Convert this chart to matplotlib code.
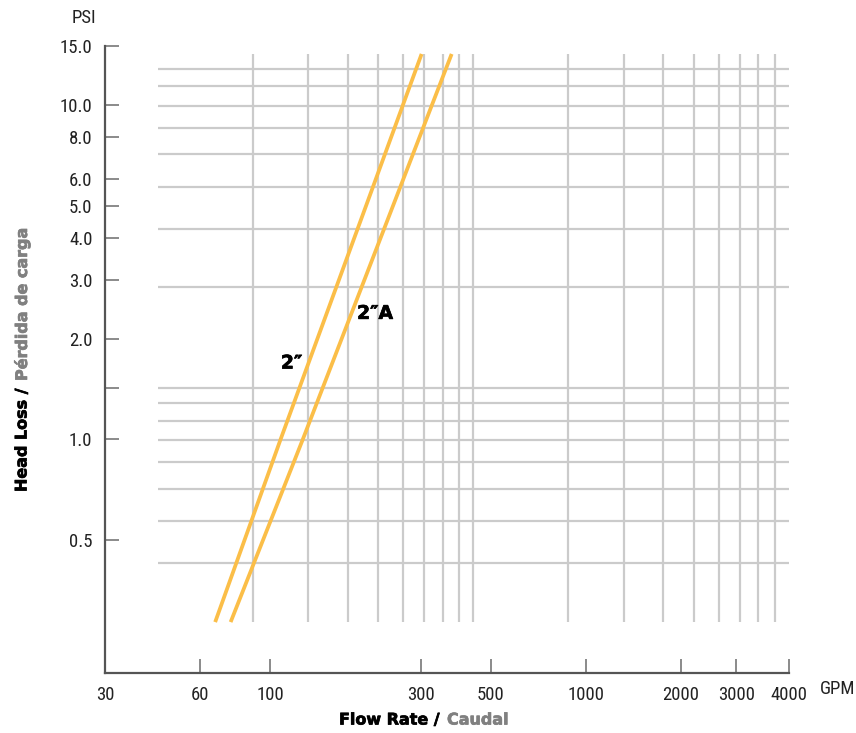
import matplotlib
matplotlib.use('Agg')
import matplotlib.pyplot as plt
import matplotlib.patheffects as pe
from matplotlib import font_manager
from matplotlib.ticker import NullLocator

# 数据：2" 与 2"A 的压力损失曲线（GPM, PSI）
FLOW_2IN = [67, 108, 302]
HEAD_2IN = [0.284, 1.0, 14.2]
FLOW_2IN_A = [75, 127, 376]
HEAD_2IN_A = [0.284, 1.0, 14.2]

# 背景网格按公制单位画（m3/h 与 m 水柱），再换算成 GPM / PSI
GPM_PER_M3H = 4.403
PSI_PER_M = 1.422
GRID_FLOW_M3H = [20, 30, 40, 50, 60, 70, 80, 90, 100,
                 200, 300, 400, 500, 600, 700, 800, 900]
GRID_HEAD_M = [0.3, 0.4, 0.5, 0.6, 0.7, 0.8, 0.9,
               1, 2, 3, 4, 5, 6, 7, 8, 9]
GRID_FLOW_SPAN = (10, 1000)
GRID_HEAD_SPAN = (0.2, 10)

X_TICKS = [30, 60, 100, 300, 500, 1000, 2000, 3000, 4000]
X_TICK_LABELS = ['30', '60', '100', '300', '500', '1000', '2000', '3000', '4000']
Y_TICKS = [0.5, 1.0, 1.422, 2.0, 3.0, 4.0, 5.0, 6.0, 8.0, 10.0, 15.0]
Y_TICK_LABELS = ['0.5', '1.0', '', '2.0', '3.0', '4.0', '5.0', '6.0', '8.0', '10.0', '15.0']

X_MIN, X_MAX = 30, 1000 * GPM_PER_M3H
Y_MIN, Y_MAX = 0.2, 15.0

LINE_COLOR = '#FBBE48'
GRID_COLOR = '#CBCBCB'
AXIS_COLOR = '#555555'
TICK_COLOR = '#777777'
SPANISH_GRAY = '#808080'
HEAVY = ['DejaVu Sans']

# 窄体字：有就用，没有就退回 DejaVu 的 condensed
_names = {f.name for f in font_manager.fontManager.ttflist}
_narrow_stretch = 'normal'
if 'Liberation Sans Narrow' in _names:
    NARROW = ['Liberation Sans Narrow', 'DejaVu Sans']
elif 'Roboto Condensed' in _names:
    NARROW = ['Roboto Condensed', 'DejaVu Sans']
else:
    NARROW = ['DejaVu Sans']
    _narrow_stretch = 'condensed'
LABEL_SIZE = 13.5 if NARROW[0] != 'DejaVu Sans' else 12.5


def heavy(color):
    # 加一圈同色描边，模仿原图的 Black 字重
    return [pe.withStroke(linewidth=0.5, foreground=color)]


fig = plt.figure(figsize=(8.56, 7.33), dpi=100)
ax = fig.add_axes([105 / 856, 60 / 733, 684 / 856, 627 / 733])
ax.set_xscale('log')
ax.set_yscale('log')
ax.set_xlim(X_MIN, X_MAX)
ax.set_ylim(Y_MIN, Y_MAX)

# 网格
gx0, gx1 = [v * GPM_PER_M3H for v in GRID_FLOW_SPAN]
gy0, gy1 = [v * PSI_PER_M for v in GRID_HEAD_SPAN]
ax.hlines([h * PSI_PER_M for h in GRID_HEAD_M], gx0, gx1,
          color=GRID_COLOR, lw=1.6, zorder=1)
ax.vlines([q * GPM_PER_M3H for q in GRID_FLOW_M3H], gy0, gy1,
          color=GRID_COLOR, lw=1.6, zorder=1)

# 曲线
ax.plot(FLOW_2IN, HEAD_2IN, color=LINE_COLOR, lw=2.7, zorder=3, solid_capstyle='butt')
ax.plot(FLOW_2IN_A, HEAD_2IN_A, color=LINE_COLOR, lw=2.7, zorder=3, solid_capstyle='butt')
ax.text(117, 1.69, '2\u2033', fontsize=13.5, fontweight='heavy', family=HEAVY,
        ha='center', va='center', zorder=4, path_effects=heavy('black'))
ax.text(215, 2.38, '2\u2033A', fontsize=13.5, fontweight='heavy', family=HEAVY,
        ha='center', va='center', zorder=4, path_effects=heavy('black'))

# 坐标轴
for side in ['top', 'right']:
    ax.spines[side].set_visible(False)
for side in ['left', 'bottom']:
    ax.spines[side].set_color(AXIS_COLOR)
    ax.spines[side].set_linewidth(1.6)

ax.xaxis.set_minor_locator(NullLocator())
ax.yaxis.set_minor_locator(NullLocator())
ax.set_xticks(X_TICKS[:-1] + [X_MAX])  # 原图把 4000 标在轴端
ax.set_xticklabels(X_TICK_LABELS)
ax.set_yticks(Y_TICKS)
ax.set_yticklabels(Y_TICK_LABELS)
ax.tick_params(axis='both', direction='in', length=10, width=1.2, color=TICK_COLOR,
               labelsize=LABEL_SIZE, labelcolor='#222222', pad=9)
for lab in ax.get_xticklabels() + ax.get_yticklabels():
    lab.set_family(NARROW)
    lab.set_stretch(_narrow_stretch)

fig.text(84 / 856, 1 - 18 / 733, 'PSI', fontsize=LABEL_SIZE, family=NARROW,
         stretch=_narrow_stretch, ha='center', va='center', color='#222222')
fig.text(838 / 856, 1 - 689 / 733, 'GPM', fontsize=LABEL_SIZE, family=NARROW,
         stretch=_narrow_stretch, ha='center', va='center', color='#222222')

# 轴标题（双色）
fig.text(440 / 856, 1 - 720 / 733, 'Flow Rate /', fontsize=11.5, fontweight='heavy',
         family=HEAVY, ha='right', va='center', color='black',
         path_effects=heavy('black'))
fig.text(447 / 856, 1 - 720 / 733, 'Caudal', fontsize=11.5, fontweight='heavy',
         family=HEAVY, ha='left', va='center', color=SPANISH_GRAY,
         path_effects=heavy(SPANISH_GRAY))
fig.text(22 / 856, 1 - 388 / 733, 'Head Loss /', fontsize=11.5, fontweight='heavy',
         family=HEAVY, rotation=90, ha='center', va='top', color='black',
         path_effects=heavy('black'))
fig.text(22 / 856, 1 - 381 / 733, 'Pérdida de carga', fontsize=11.5, fontweight='heavy',
         family=HEAVY, rotation=90, ha='center', va='bottom', color=SPANISH_GRAY,
         path_effects=heavy(SPANISH_GRAY))

fig.savefig('out.png', dpi=100)
plt.close(fig)
